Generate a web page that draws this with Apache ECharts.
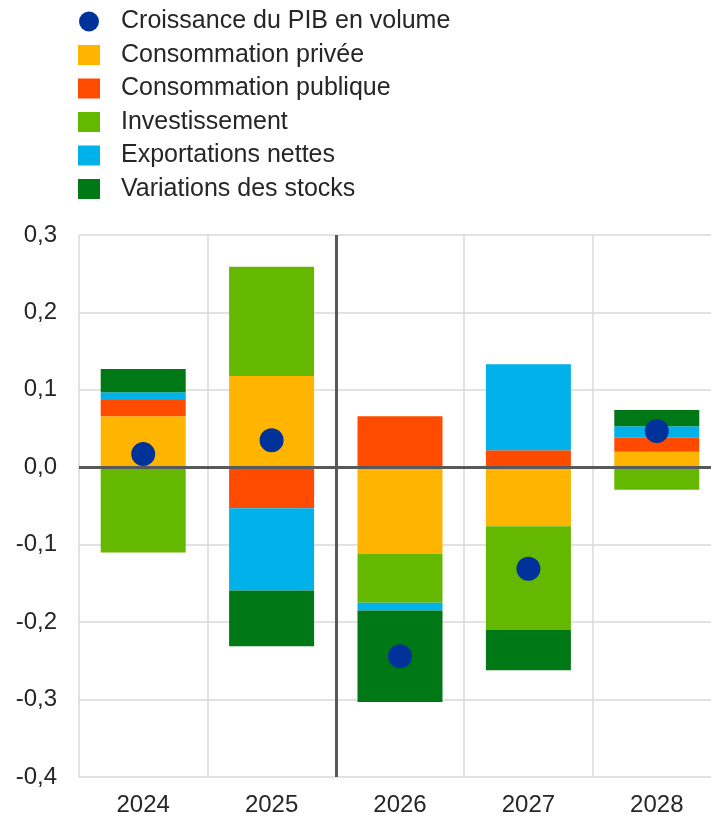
<!DOCTYPE html>
<html>
<head>
<meta charset="utf-8">
<script src="https://cdn.jsdelivr.net/npm/echarts@6/dist/echarts.min.js"></script>
<style>
  html, body { margin: 0; padding: 0; background: #fff; }
  #chart { width: 711px; height: 821px; }
</style>
</head>
<body>
<div id="chart"></div>
<script>
// Contributions à la croissance du PIB (points de pourcentage)
const years = ['2024', '2025', '2026', '2027', '2028'];
const pib = [0.017, 0.035, -0.244, -0.131, 0.047];
const consoPrivee = [0.066, 0.118, -0.112, -0.076, 0.020];
const consoPublique = [0.021, -0.053, 0.066, 0.022, 0.018];
const investissement = [-0.110, 0.141, -0.063, -0.134, -0.029];
const exportations = [0.010, -0.106, -0.010, 0.111, 0.015];
const stocks = [0.030, -0.072, -0.118, -0.052, 0.021];

const textColor = '#262626';
const font = 'Liberation Sans, Arial, sans-serif';

const chart = echarts.init(document.getElementById('chart'));

function barSeries(name, data, color) {
    return {
        name: name,
        type: 'bar',
        stack: 'total',
        barWidth: 85,
        itemStyle: { color: color },
        data: data
    };
}

chart.setOption({
    animation: false,
    textStyle: { fontFamily: font },
    legend: {
        orient: 'vertical',
        left: 78,
        top: 9,
        padding: 0,
        itemWidth: 22,
        itemHeight: 20,
        itemGap: 8.5,
        textStyle: { fontSize: 25, lineHeight: 24, color: textColor, padding: [0, 0, 0, 16] },
        data: [
            { name: 'Croissance du PIB en volume', icon: 'circle' },
            { name: 'Consommation privée', icon: 'rect' },
            { name: 'Consommation publique', icon: 'rect' },
            { name: 'Investissement', icon: 'rect' },
            { name: 'Exportations nettes', icon: 'rect' },
            { name: 'Variations des stocks', icon: 'rect' }
        ]
    },
    grid: { left: 79, right: -10, top: 235, bottom: 44, outerBoundsMode: 'none' },
    xAxis: [
        {
            type: 'category',
            data: years,
            axisLine: { show: false, onZero: false },
            axisTick: { show: false },
            axisLabel: { fontSize: 24, color: textColor, margin: 16 },
            splitLine: { show: true, lineStyle: { color: '#d9d9d9', width: 1.5 } }
        },
        { type: 'value', min: 0, max: 5, show: false }
    ],
    yAxis: {
        type: 'value',
        min: -0.4,
        max: 0.3,
        interval: 0.1,
        axisLine: { show: false },
        axisTick: { show: false },
        axisLabel: {
            fontSize: 24,
            color: textColor,
            margin: 22,
            formatter: v => v.toFixed(1).replace('.', ',')
        },
        splitLine: { lineStyle: { color: '#d9d9d9', width: 1.5 } }
    },
    series: [
        barSeries('Consommation privée', consoPrivee, '#ffb400'),
        barSeries('Consommation publique', consoPublique, '#ff4b00'),
        barSeries('Investissement', investissement, '#65b800'),
        barSeries('Exportations nettes', exportations, '#00b1ea'),
        barSeries('Variations des stocks', stocks, '#007816'),
        {
            type: 'line',
            xAxisIndex: 1,
            data: [],
            silent: true,
            z: 3,
            markLine: {
                silent: true,
                symbol: 'none',
                label: { show: false },
                lineStyle: { color: '#595959', width: 3, type: 'solid' },
                data: [{ xAxis: 2 }, { yAxis: 0 }]
            }
        },
        {
            name: 'Croissance du PIB en volume',
            type: 'scatter',
            symbolSize: 24,
            z: 5,
            itemStyle: { color: '#003299', opacity: 1 },
            data: pib
        }
    ]
});
</script>
</body>
</html>
